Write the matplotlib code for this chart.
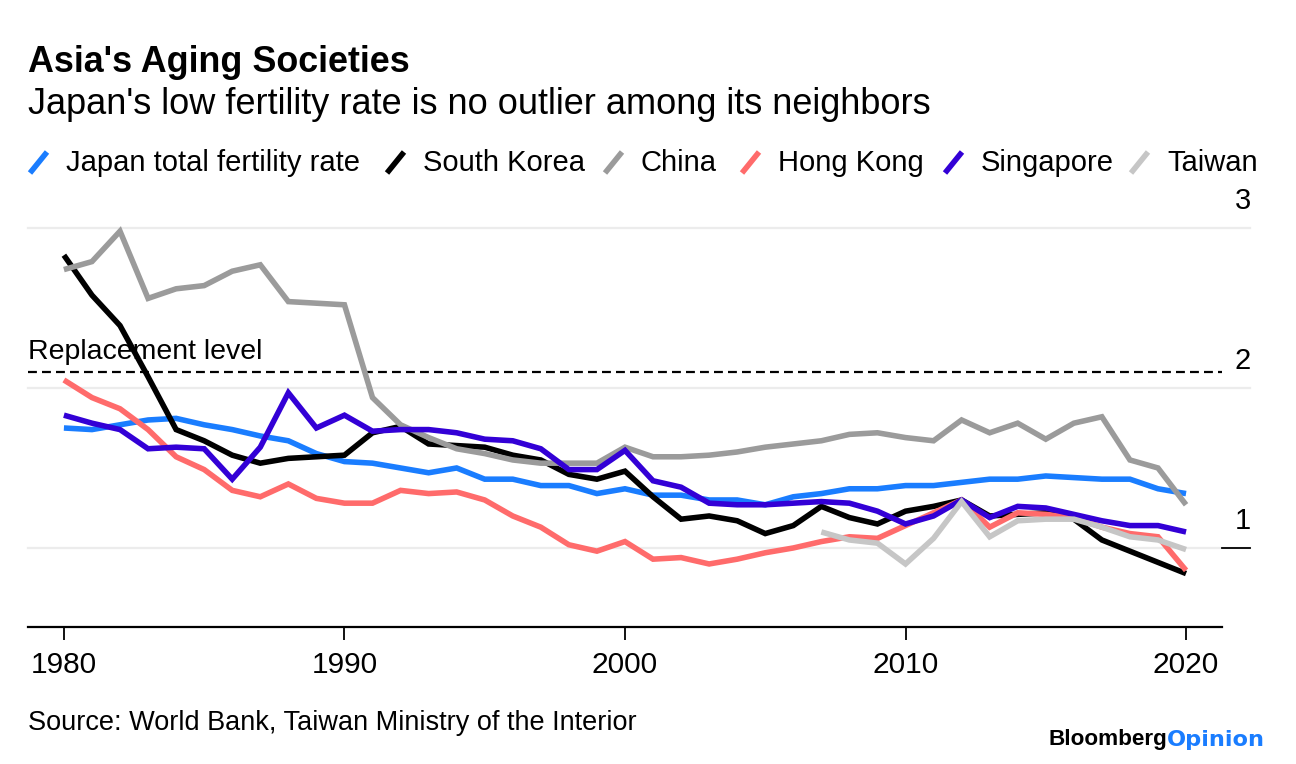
import numpy as np
import matplotlib
matplotlib.use('Agg')
import matplotlib.pyplot as plt
from matplotlib.lines import Line2D

plt.rcParams['font.family'] = ['Liberation Sans', 'DejaVu Sans']

# Données (taux de fécondité)
years = list(range(1980, 2021))

japan = [1.75, 1.74, 1.77, 1.80, 1.81, 1.77, 1.74, 1.70, 1.67, 1.59,
         1.54, 1.53, 1.50, 1.47, 1.50, 1.43, 1.43, 1.39, 1.39, 1.34,
         1.37, 1.33, 1.33, 1.30, 1.30, 1.27, 1.32, 1.34, 1.37, 1.37,
         1.39, 1.39, 1.41, 1.43, 1.43, 1.45, 1.44, 1.43, 1.43, 1.37,
         1.34]
south_korea = [2.83, 2.58, 2.39, 2.07, 1.74, 1.67, 1.58, 1.53, 1.56, 1.57,
               1.58, 1.72, 1.76, 1.65, 1.64, 1.63, 1.58, 1.55, 1.46, 1.43,
               1.48, 1.32, 1.18, 1.20, 1.17, 1.09, 1.14, 1.26, 1.19, 1.15,
               1.23, 1.26, 1.30, 1.20, 1.21, 1.22, 1.18, 1.05, 0.98, 0.91,
               0.84]
china = [2.74, 2.79, 2.98, 2.56, 2.62, 2.64, 2.73, 2.77, 2.54, 2.53,
         2.52, 1.94, 1.77, 1.69, 1.62, 1.59, 1.55, 1.53, 1.53, 1.53,
         1.63, 1.57, 1.57, 1.58, 1.60, 1.63, 1.65, 1.67, 1.71, 1.72,
         1.69, 1.67, 1.80, 1.72, 1.78, 1.68, 1.78, 1.82, 1.55, 1.50,
         1.27]
hong_kong = [2.05, 1.94, 1.87, 1.74, 1.57, 1.49, 1.36, 1.32, 1.40, 1.31,
             1.28, 1.28, 1.36, 1.34, 1.35, 1.30, 1.20, 1.13, 1.02, 0.98,
             1.04, 0.93, 0.94, 0.90, 0.93, 0.97, 1.00, 1.04, 1.07, 1.06,
             1.14, 1.22, 1.30, 1.13, 1.22, 1.21, 1.19, 1.13, 1.09, 1.07,
             0.86]
singapore = [1.83, 1.78, 1.74, 1.62, 1.63, 1.62, 1.43, 1.63, 1.97, 1.75,
             1.83, 1.73, 1.74, 1.74, 1.72, 1.68, 1.67, 1.62, 1.49, 1.49,
             1.61, 1.42, 1.38, 1.28, 1.27, 1.27, 1.28, 1.29, 1.28, 1.23,
             1.15, 1.20, 1.30, 1.19, 1.26, 1.25, 1.21, 1.17, 1.14, 1.14,
             1.10]
taiwan_years = list(range(2007, 2021))
taiwan = [1.10, 1.05, 1.03, 0.90, 1.06, 1.29, 1.07, 1.17, 1.18, 1.18,
          1.13, 1.07, 1.05, 0.99]

series = [
    ('Japan total fertility rate', years, japan, '#1a7dff'),
    ('South Korea', years, south_korea, '#000000'),
    ('China', years, china, '#9b9b9b'),
    ('Hong Kong', years, hong_kong, '#ff6b6b'),
    ('Singapore', years, singapore, '#3300d6'),
    ('Taiwan', taiwan_years, taiwan, '#c6c6c6'),
]

W, H = 1296, 764
fig = plt.figure(figsize=(W / 100, H / 100), dpi=100)

def fx(x):
    return x / W

def fy(y):
    return 1 - y / H

# zone du graphique : x 28..1250 px, y 228..627 px
ax = fig.add_axes([fx(28), fy(627), fx(1250 - 28), (627 - 228) / H])
x0, x1 = 1978.72, 2022.28
y0, y1 = 0.506, 3.0
ax.set_xlim(x0, x1)
ax.set_ylim(y0, y1)

for v in [1, 2, 3]:
    ax.axhline(v, color='#ececec', lw=1.6, zorder=0, clip_on=False)

# niveau de remplacement
ax.plot([x0, 2021.28], [2.1, 2.1], color='black', lw=1.6, ls=(0, (4, 2.3)), zorder=1)

# petit trait noir à 1
ax.plot([2021.28, x1], [1, 1], color='black', lw=1.3, clip_on=False)

for name, xs, ys, c in series:
    ax.plot(xs, ys, color=c, lw=4.0, solid_capstyle='butt',
            solid_joinstyle='miter', zorder=3, clip_on=False)

for sp in ['top', 'right', 'left']:
    ax.spines[sp].set_visible(False)
ax.spines['bottom'].set_bounds(x0, 2021.28)
ax.spines['bottom'].set_position(('data', y0))
ax.spines['bottom'].set_linewidth(1.6)
ax.set_yticks([])
ax.set_xticks([1980, 1990, 2000, 2010, 2020])
ax.set_xticklabels(['1980', '1990', '2000', '2010', '2020'])
ax.tick_params(axis='x', length=9, width=1.3, pad=8, labelsize=21.5)

# titres
fig.text(fx(28), fy(62), "Asia's Aging Societies", fontsize=25.8,
         fontweight='bold', va='center', ha='left')
fig.text(fx(28), fy(104), "Japan's low fertility rate is no outlier among its neighbors",
         fontsize=26, va='center', ha='left')

# légende
leg_x = [30, 387, 605, 742, 945, 1131]
for (name, xs, ys, c), lx in zip(series, leg_x):
    fig.add_artist(Line2D([fx(lx), fx(lx + 17)], [fy(173), fy(152)],
                          transform=fig.transFigure, color=c, lw=4.0,
                          solid_capstyle='butt'))
    fig.text(fx(lx + 36), fy(163), name, fontsize=21, va='center', ha='left')

# étiquettes de l'axe y à droite
for v, ypix in [(3, 201), (2, 361), (1, 521)]:
    fig.text(fx(1251), fy(ypix), str(v), fontsize=21, va='center', ha='right')

fig.text(fx(28), fy(352), 'Replacement level', fontsize=20.5, va='center', ha='left')

# source et logo
fig.text(fx(28), fy(723), 'Source: World Bank, Taiwan Ministry of the Interior',
         fontsize=19.5, va='center', ha='left')
fig.text(fx(1167), fy(740), 'Bloomberg', fontsize=16.2, fontweight='bold',
         va='center', ha='right', color='black')
fig.text(fx(1167), fy(740), 'Opinion', fontsize=16.2, fontweight='bold',
         family='DejaVu Sans', va='center', ha='left', color='#1a7dff')

fig.savefig('out.png', dpi=100)
